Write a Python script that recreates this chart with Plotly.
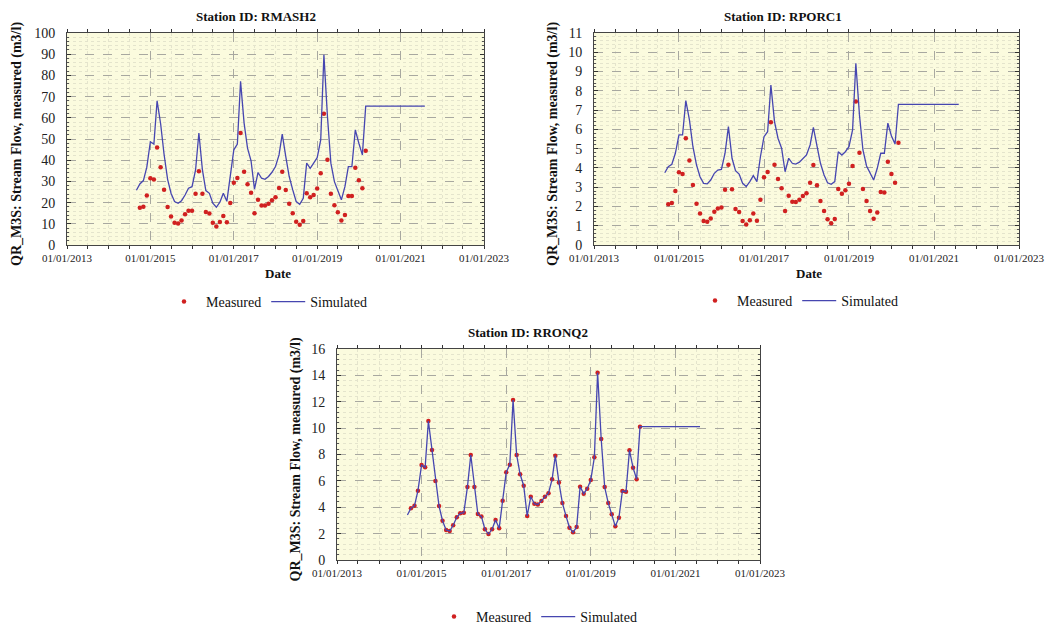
import pandas as pd
import plotly.graph_objects as go

# ---- data -------------------------------------------------------------
measured_dates = pd.date_range("2014-10-01", "2020-03-01", freq="MS")
sim_dates = list(pd.date_range("2014-09-01", "2020-03-01", freq="MS")) + [pd.Timestamp("2021-08-01")]

stations = ["RMASH2", "RPORC1", "RRONQ2"]

rmash2_measured = [
    17.6, 18.1, 23.3, 31.5, 30.9, 46.0, 36.7, 26.1, 17.9, 13.4, 10.5, 10.1,
    11.5, 14.5, 16.1, 16.1, 24.2, 34.8, 24.2, 15.6, 14.8, 10.5, 8.7, 10.9,
    13.7, 10.7, 19.8, 29.4, 31.6, 52.8, 34.6, 28.7, 24.6, 15.0, 21.3, 18.6,
    18.6, 19.5, 21.1, 22.5, 26.9, 34.5, 26.0, 19.4, 15.0, 11.0, 9.5, 11.3,
    24.4, 22.5, 23.6, 26.6, 33.9, 61.9, 40.2, 24.2, 18.7, 15.4, 11.5, 14.2,
    23.1, 23.1, 36.4, 30.6, 26.8, 44.4,
]
rmash2_simulated = [
    25.8, 28.8, 30.4, 36.7, 48.7, 47.6, 68.0, 57.2, 42.8, 31.0, 24.4, 20.5,
    19.7, 20.9, 23.6, 26.8, 27.5, 35.4, 52.8, 35.4, 25.7, 24.4, 19.7, 17.8,
    20.2, 24.4, 20.6, 33.0, 44.9, 47.6, 77.2, 57.5, 45.7, 39.7, 26.3, 34.2,
    31.5, 31.0, 32.3, 34.3, 37.0, 42.5, 52.3, 41.7, 32.3, 26.0, 20.5, 19.2,
    22.0, 38.6, 36.2, 38.6, 41.2, 49.6, 89.7, 60.6, 38.6, 29.9, 25.2, 21.3,
    27.5, 37.0, 37.0, 54.3, 48.0, 42.5, 65.5, 65.5,
]

rporc1_measured = [
    2.11, 2.18, 2.80, 3.77, 3.68, 5.54, 4.38, 3.11, 2.14, 1.63, 1.25, 1.21,
    1.38, 1.73, 1.90, 1.94, 2.87, 4.17, 2.89, 1.87, 1.71, 1.25, 1.07, 1.28,
    1.64, 1.26, 2.35, 3.51, 3.79, 6.37, 4.17, 3.42, 2.95, 1.76, 2.55, 2.25,
    2.23, 2.35, 2.54, 2.68, 3.23, 4.15, 3.10, 2.28, 1.76, 1.33, 1.13, 1.35,
    2.91, 2.66, 2.84, 3.18, 4.10, 7.44, 4.79, 2.91, 2.28, 1.76, 1.36, 1.68,
    2.75, 2.73, 4.32, 3.68, 3.23, 5.30,
]
rporc1_simulated = [
    3.75, 4.06, 4.19, 4.76, 5.71, 5.71, 7.49, 6.49, 5.10, 4.15, 3.54, 3.20,
    3.17, 3.37, 3.72, 3.89, 3.92, 4.76, 6.14, 4.50, 3.86, 3.68, 3.20, 3.03,
    3.29, 3.60, 3.29, 4.58, 5.62, 5.88, 8.30, 6.40, 5.54, 5.02, 3.80, 4.50,
    4.24, 4.20, 4.30, 4.50, 4.67, 5.19, 6.10, 5.14, 4.24, 3.63, 3.23, 3.15,
    3.29, 4.84, 4.67, 4.84, 5.10, 5.97, 9.43, 6.75, 4.93, 4.10, 3.72, 3.37,
    3.98, 4.76, 4.76, 6.32, 5.66, 5.24, 7.30, 7.30,
]

rronq2_measured = [
    3.92, 4.12, 5.26, 7.20, 7.03, 10.54, 8.34, 5.99, 4.09, 2.98, 2.27, 2.20,
    2.63, 3.24, 3.54, 3.59, 5.53, 7.96, 5.53, 3.49, 3.29, 2.33, 1.97, 2.33,
    3.03, 2.40, 4.50, 6.65, 7.23, 12.13, 7.96, 6.50, 5.63, 3.34, 4.80, 4.27,
    4.20, 4.47, 4.80, 5.06, 6.12, 7.91, 5.88, 4.32, 3.34, 2.45, 2.10, 2.50,
    5.56, 5.03, 5.41, 6.07, 7.79, 14.20, 9.17, 5.53, 4.32, 3.46, 2.55, 3.21,
    5.23, 5.18, 8.32, 7.00, 6.12, 10.11,
]
rronq2_simulated = [
    3.41, 3.92, 4.12, 5.26, 7.20, 7.03, 10.54, 8.34, 5.99, 4.09, 2.98, 2.27,
    2.20, 2.63, 3.24, 3.54, 3.59, 5.53, 7.96, 5.53, 3.49, 3.29, 2.33, 1.97,
    2.33, 3.03, 2.40, 4.50, 6.65, 7.23, 12.13, 7.96, 6.50, 5.63, 3.34, 4.80,
    4.27, 4.20, 4.47, 4.80, 5.06, 6.12, 7.91, 5.88, 4.32, 3.34, 2.45, 2.10,
    2.50, 5.56, 5.03, 5.41, 6.07, 7.79, 14.20, 9.17, 5.53, 4.32, 3.46, 2.55,
    3.21, 5.23, 5.18, 8.32, 7.00, 6.12, 10.11, 10.11,
]

y_ranges = [[0, 100], [0, 11], [0, 16]]
y_majors = [10, 1, 2]
y_minors = [2, 0.2, 0.4]

# ---- layout geometry (pixels in a 1046 x 624 page) ---------------------
W, H = 1046, 624
panels = [
    dict(x0=67, x1=484, y0=33, y1=245),
    dict(x0=594, x1=1019, y0=33, y1=245),
    dict(x0=337, x1=760, y0=349, y1=560),
]

SERIF = "Liberation Serif, Times New Roman, serif"
RED = "#D02020"
BLUE = "#4646B0"
PLOT_BG = "#FBFBDE"

measured = [rmash2_measured, rporc1_measured, rronq2_measured]
simulated = [rmash2_simulated, rporc1_simulated, rronq2_simulated]

fig = go.Figure()
layout = dict(
    width=W, height=H,
    margin=dict(l=0, r=0, t=0, b=0, autoexpand=False),
    paper_bgcolor="white",
    plot_bgcolor=PLOT_BG,
    font=dict(family=SERIF, color="#111"),
    annotations=[], showlegend=True,
)

legend_pos = [(162, 302), (693, 301), (432, 617)]

for i, p in enumerate(panels):
    n = "" if i == 0 else str(i + 1)
    xa, ya = "x" + n, "y" + n
    lg = "legend" + n
    fig.add_trace(go.Scatter(
        x=measured_dates, y=measured[i], mode="markers", name="Measured",
        marker=dict(color=RED, size=4.5), xaxis=xa, yaxis=ya, legend=lg,
    ))
    fig.add_trace(go.Scatter(
        x=sim_dates, y=simulated[i], mode="lines", name="Simulated",
        line=dict(color=BLUE, width=1.3), xaxis=xa, yaxis=ya, legend=lg,
    ))

    layout["xaxis" + n] = dict(
        domain=[p["x0"] / W, p["x1"] / W], anchor=ya,
        range=["2013-01-01", "2023-01-01"],
        tick0="2013-01-01", dtick="M24", tickformat="%m/%d/%Y",
        tickfont=dict(size=11, family=SERIF, color="#222"),
        ticks="outside", ticklen=3, tickcolor="#333",
        showline=True, linecolor="#444", linewidth=1, mirror="ticks",
        showgrid=True, gridcolor="#A8A8A0", griddash="dash", gridwidth=1,
        minor=dict(dtick="M6", ticks="outside", ticklen=3, tickcolor="#333",
                   showgrid=True, gridcolor="#E4E4CC", griddash="dot"),
        zeroline=False, fixedrange=True,
    )
    layout["yaxis" + n] = dict(
        domain=[1 - p["y1"] / H, 1 - p["y0"] / H], anchor=xa,
        range=y_ranges[i], dtick=y_majors[i], tick0=0,
        tickfont=dict(size=14, family=SERIF, color="#222"),
        ticks="inside", ticklen=4, tickcolor="#333", ticklabelstandoff=8,
        showline=True, linecolor="#444", linewidth=1, mirror="ticks",
        showgrid=True, gridcolor="#A8A8A0", griddash="dash", gridwidth=1,
        minor=dict(dtick=y_minors[i], ticks="inside", ticklen=2, tickcolor="#555",
                   showgrid=True, gridcolor="#E4E4CC", griddash="dot"),
        zeroline=False, fixedrange=True,
    )

    lx, ly = legend_pos[i]
    layout[lg] = dict(
        orientation="h", x=lx / W, y=1 - ly / H, xanchor="left", yanchor="middle",
        font=dict(size=14, family=SERIF, color="#111"),
        bgcolor="rgba(0,0,0,0)", itemwidth=34,
    )

    cx = (p["x0"] + p["x1"]) / 2
    title_x = [256, 783, 528][i]
    layout["annotations"].append(dict(
        text="<b>Station ID: %s</b>" % stations[i], xref="paper", yref="paper",
        x=title_x / W, y=1 - (p["y0"] - 17) / H, showarrow=False,
        xanchor="center", yanchor="middle", font=dict(size=13, family=SERIF, color="#111"),
    ))
    ytitle_x = [17, 553, 295][i]
    layout["annotations"].append(dict(
        text="<b>QR_M3S: Stream Flow, measured (m3/l)</b>", xref="paper", yref="paper",
        x=ytitle_x / W, y=1 - (p["y0"] + p["y1"] + 10) / 2 / H, textangle=-90,
        showarrow=False, xanchor="center", yanchor="middle",
        font=dict(size=14, family=SERIF, color="#111"),
    ))
    if i < 2:
        layout["annotations"].append(dict(
            text="<b>Date</b>", xref="paper", yref="paper",
            x=(cx + 2) / W, y=1 - (p["y1"] + 28) / H, showarrow=False,
            xanchor="center", yanchor="middle", font=dict(size=13, family=SERIF, color="#111"),
        ))

fig.update_layout(**layout)
fig.write_html("out.html")
